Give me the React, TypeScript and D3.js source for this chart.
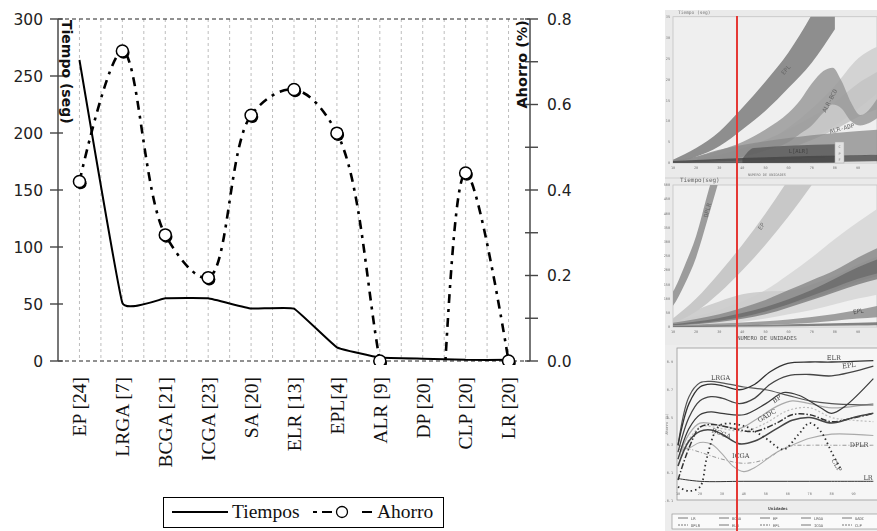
import React from "react";
import * as d3 from "d3";

// ---------- main chart data ----------
const categories = ["EP [24]", "LRGA [7]", "BCGA [21]", "ICGA [23]", "SA [20]", "ELR [13]", "EPL[4]", "ALR [9]", "DP [20]", "CLP [20]", "LR [20]"];
const tiempos = [264, 51, 55, 55, 46, 46, 12, 3, 2, 1, 1];
const ahorro = [0.42, 0.725, 0.295, 0.195, 0.575, 0.635, 0.533, 0, -0.6, 0.44, 0];
const tiempoTicks = [0, 50, 100, 150, 200, 250, 300];
const ahorroTicks = [0, 0.2, 0.4, 0.6, 0.8];
const ahorroMinorTicks = [0.1, 0.3, 0.5, 0.7];
const legendLabels = ["Tiempos", "Ahorro"];

// ---------- side collage data (x = units, lo/hi = value) ----------
type Band = [number, number, number];
const unitTicks = [10, 20, 30, 40, 50, 60, 70, 80, 90];
const p1Ticks = [0, 5, 10, 15, 20, 25, 30, 35];
const p2Ticks = [0, 50, 100, 150, 200, 250, 300, 350, 400, 450, 500];
const p3Ticks = [-0.1, 0.1, 0.3, 0.5, 0.7, 0.9];

const p1Light: Band[] = [[30, 0.5, 1.5], [50, 2, 5], [60, 3.5, 8.5], [70, 6, 13], [80, 9, 18.5], [90, 13, 25], [99, 17, 28]];
const p1ALRADP: Band[] = [[10, 0, 0.3], [30, 0.5, 2], [50, 2, 5.5], [60, 3.5, 8], [70, 5.5, 11], [80, 8, 14.5], [90, 11, 19], [99, 13, 22]];
const p1ALRBCD: Band[] = [[10, 0, 0.4], [20, 0.3, 1.5], [30, 0.8, 3], [40, 1.5, 5], [50, 3, 8], [60, 5, 12], [65, 7, 15], [70, 9, 19], [75, 12, 22], [79, 14, 22.8], [83, 13, 19.5], [87, 10, 14.5], [91, 9, 11.5], [99, 11, 16]];
const p1EPL: Band[] = [[10, 0, 0.8], [20, 1.5, 3.6], [30, 4, 7.5], [40, 8, 13.2], [50, 12.5, 19.5], [60, 18, 26.5], [70, 24, 35.5], [80, 32, 46]];
const p1Low: Band[] = [[10, 0, 0.7], [20, 0.2, 1.5], [26, 0.3, 2.6], [40, 0.6, 4.3], [60, 1, 6], [80, 1.5, 7.2], [99, 2, 8]];
const p1Box: Band[] = [[40, 0, 1], [45, 0, 3.6], [80, 0, 4.5]];
const p1Base: Band[] = [[10, 0, 0.5], [40, 0, 1.2], [99, 0.4, 2]];

const p2Wide: Band[] = [[10, 0, 20], [30, 10, 60], [50, 30, 130], [60, 45, 185], [70, 60, 245], [80, 80, 310], [90, 100, 370], [99, 115, 420]];
const p2Hump: Band[] = [[10, 10, 20], [20, 20, 60], [30, 30, 90], [40, 45, 115], [50, 60, 125], [60, 80, 128], [70, 100, 150], [80, 130, 180], [90, 160, 220], [99, 180, 250]];
const p2EP: Band[] = [[10, 12, 30], [20, 55, 100], [30, 120, 190], [40, 200, 290], [50, 290, 400], [60, 390, 520], [70, 500, 640]];
const p2DPLR: Band[] = [[5, 40, 90], [10, 75, 125], [15, 150, 215], [20, 245, 320], [25, 380, 470], [30, 520, 610]];
const p2DarkA: Band[] = [[10, 5, 15], [20, 12, 28], [30, 22, 45], [40, 35, 68], [50, 55, 95], [60, 80, 130], [70, 110, 165], [80, 140, 200], [90, 170, 245], [99, 190, 280]];
const p2DarkB: Band[] = [[10, 5, 10], [30, 18, 32], [50, 45, 70], [70, 95, 130], [90, 150, 210], [99, 170, 240]];
const p2EPL: Band[] = [[10, 0, 6], [30, 3, 12], [50, 8, 20], [70, 15, 35], [90, 30, 60], [99, 35, 75]];
const p2Base: Band[] = [[10, 0, 3], [90, 5, 15], [99, 6, 17]];

type Pt = [number, number];
const lnELR: Pt[] = [[10, 0.3], [15, 0.6], [20, 0.72], [25, 0.74], [30, 0.73], [38, 0.7], [45, 0.74], [52, 0.83], [60, 0.89], [70, 0.9], [80, 0.9], [99, 0.91]];
const lnEPL: Pt[] = [[10, 0.25], [15, 0.5], [20, 0.62], [25, 0.65], [30, 0.64], [38, 0.6], [45, 0.64], [52, 0.74], [60, 0.8], [70, 0.81], [80, 0.8], [99, 0.87]];
const lnLRGA: Pt[] = [[10, 0.3], [15, 0.65], [20, 0.75], [25, 0.76], [30, 0.75], [40, 0.72], [50, 0.7], [60, 0.66], [70, 0.62], [80, 0.6], [99, 0.59]];
const lnSA: Pt[] = [[10, 0.2], [15, 0.42], [20, 0.52], [25, 0.54], [30, 0.53], [40, 0.52], [50, 0.6], [58, 0.68], [65, 0.66], [75, 0.57], [80, 0.53], [86, 0.58], [99, 0.78]];
const lnBP: Pt[] = [[10, 0.2], [15, 0.38], [20, 0.46], [30, 0.44], [38, 0.42], [45, 0.48], [55, 0.58], [62, 0.62], [70, 0.6], [80, 0.57], [99, 0.6]];
const lnGADC: Pt[] = [[10, 0.2], [20, 0.43], [30, 0.42], [40, 0.4], [50, 0.46], [60, 0.55], [70, 0.57], [80, 0.5], [90, 0.48], [99, 0.47]];
const lnBCGAdd: Pt[] = [[10, 0.05], [15, 0.28], [20, 0.43], [25, 0.45], [30, 0.44], [38, 0.41], [45, 0.4], [55, 0.46], [62, 0.52], [70, 0.52], [80, 0.47], [88, 0.49], [99, 0.53]];
const lnBCGA: Pt[] = [[10, 0.15], [15, 0.33], [20, 0.4], [25, 0.41], [30, 0.38], [38, 0.31], [45, 0.33], [55, 0.42], [62, 0.48], [70, 0.5], [80, 0.46], [90, 0.5], [99, 0.53]];
const lnICGA: Pt[] = [[10, 0.27], [15, 0.28], [20, 0.32], [25, 0.31], [30, 0.24], [35, 0.15], [40, 0.11], [45, 0.14], [55, 0.25], [62, 0.3], [70, 0.35], [80, 0.38], [99, 0.37]];
const lnDPLR: Pt[] = [[10, 0.3], [20, 0.25], [30, 0.2], [40, 0.17], [50, 0.2], [60, 0.29], [70, 0.3], [80, 0.3], [99, 0.3]];
const lnCLP: Pt[] = [[10, 0.0], [15, -0.03], [20, 0.0], [23, 0.2], [27, 0.4], [30, 0.45], [40, 0.44], [50, 0.35], [58, 0.27], [65, 0.38], [70, 0.46], [75, 0.4], [80, 0.25], [84, 0.13]];
const lnLR: Pt[] = [[10, 0.06], [20, 0.04], [40, 0.04], [60, 0.04], [80, 0.04], [99, 0.04]];
const p3Labels: [string, number, number, number][] = [
  ["ELR", 81, 0.915, 0], ["EPL", 88, 0.86, -8], ["LRGA", 29.4, 0.77, 0], ["BP", 55.6, 0.62, -35],
  ["GADC", 51, 0.5, -30], ["BCGA", 29.4, 0.37, 20], ["ICGA", 38.6, 0.21, 0], ["DPLR", 92.5, 0.29, 0],
  ["CLP", 81.4, 0.15, 60], ["LR", 96.6, 0.05, 0],
];
const p3LegendRow1 = ["LR", "BCGA", "EP", "LRGA", "GADC"];
const p3LegendRow2 = ["DPLR", "ELR", "EPL", "ICGA", "CLP"];

export default function App() {
  const W = 877, H = 531;
  const left = 58, right = 530, top = 19, bottom = 361;
  const x = d3.scaleBand<string>().domain(categories).range([left, right]);
  const cx = (c: string) => (x(c) ?? 0) + x.bandwidth() / 2;
  const yL = d3.scaleLinear().domain([0, 300]).range([bottom, top]);
  const yR = d3.scaleLinear().domain([0, 0.8]).range([bottom, top]);
  const tLine = d3.line<number>().x((_, i) => cx(categories[i])).y((d) => yL(d)).curve(d3.curveCardinal.tension(0.75));
  const aLine = d3.line<number>().x((_, i) => cx(categories[i])).y((d) => yR(d)).curve(d3.curveCatmullRom.alpha(0.5));
  const gridXs = d3.range(1, categories.length * 2).map((k) => left + (k * x.bandwidth()) / 2);

  // collage scales
  const sx12 = d3.scaleLinear().domain([10, 90]).range([673, 858]);
  const sy1 = d3.scaleLinear().domain([0, 35]).range([163, 16.7]);
  const sy2 = d3.scaleLinear().domain([0, 500]).range([327, 185]);
  const sx3 = d3.scaleLinear().domain([10, 90]).range([678, 853.6]);
  const sy3 = d3.scaleLinear().domain([0.1, 0.9]).range([473, 362]);
  const area = (sx: any, sy: any) => d3.area<Band>().x((d) => sx(d[0])).y0((d) => sy(d[1])).y1((d) => sy(d[2])).curve(d3.curveMonotoneX);
  const a1 = area(sx12, sy1), a2 = area(sx12, sy2);
  const l3 = d3.line<Pt>().x((d) => sx3(d[0])).y((d) => sy3(d[1])).curve(d3.curveCatmullRom);

  const tickFont = { fontFamily: "DejaVu Sans", fontSize: 15.5, fill: "#222" } as const;
  const serif = { fontFamily: "Liberation Serif", fontSize: 19.5, fill: "#111" } as const;
  const tiny = { fontFamily: "DejaVu Sans Mono", fontSize: 4.5, fill: "#777" } as const;

  return (
    <svg width={W} height={H} style={{ position: "absolute", left: 0, top: 0, background: "#fff" }}>
      <defs>
        <clipPath id="plot"><rect x={left} y={top - 2} width={right - left} height={bottom - top + 6} /></clipPath>
        <clipPath id="p1"><rect x={673} y={16.7} width={204} height={146.3} /></clipPath>
        <clipPath id="p2"><rect x={673} y={185} width={204} height={142} /></clipPath>
        <clipPath id="p3"><rect x={677} y={348} width={200} height={152} /></clipPath>
        <filter id="blur"><feGaussianBlur stdDeviation="0.7" /></filter>
      </defs>

      {/* ------------- main chart ------------- */}
      {gridXs.map((gx, i) => (
        <line key={i} x1={gx} x2={gx} y1={top} y2={bottom} stroke="#bdbdbd" strokeDasharray="3,3" />
      ))}
      <line x1={left} x2={right} y1={top} y2={top} stroke="#222" strokeDasharray="4,3" />
      <line x1={left} x2={right} y1={bottom} y2={bottom} stroke="#222" strokeDasharray="4,3" />
      <line x1={left} x2={left} y1={top} y2={bottom} stroke="#555" strokeWidth={1.6} />
      <line x1={right} x2={right} y1={top} y2={bottom} stroke="#555" strokeWidth={1.6} />
      {tiempoTicks.map((t) => (
        <g key={t}>
          <line x1={left - 8} x2={left + 5} y1={yL(t)} y2={yL(t)} stroke="#444" strokeWidth={1.4} />
          <text x={43} y={yL(t)} dy="0.36em" textAnchor="end" {...tickFont}>{t}</text>
        </g>
      ))}
      {ahorroTicks.map((t) => (
        <g key={t}>
          <line x1={right - 5} x2={right + 8} y1={yR(t)} y2={yR(t)} stroke="#444" strokeWidth={1.4} />
          <text x={547} y={yR(t)} dy="0.36em" textAnchor="start" {...tickFont}>{t.toFixed(1)}</text>
        </g>
      ))}
      {ahorroMinorTicks.map((t) => (
        <line key={t} x1={right - 5} x2={right + 8} y1={yR(t)} y2={yR(t)} stroke="#444" strokeWidth={1.4} />
      ))}
      <text transform={`translate(62,20) rotate(90)`} fontFamily="DejaVu Sans" fontWeight="bold" fontSize={14} fill="#111">Tiempo (seg)</text>
      <text transform={`translate(527,20) rotate(-90)`} textAnchor="end" fontFamily="DejaVu Sans" fontWeight="bold" fontSize={14.5} fill="#111">Ahorro (%)</text>

      <g clipPath="url(#plot)">
        <path d={tLine(tiempos) ?? ""} fill="none" stroke="#000" strokeWidth={2} strokeLinejoin="round" />
        <path d={aLine(ahorro) ?? ""} fill="none" stroke="#000" strokeWidth={2.6} strokeDasharray="9,6,3,6" />
        {ahorro.map((v, i) => (
          <g key={i}>
            <circle cx={cx(categories[i]) + 1.2} cy={yR(v) + 1.8} r={6} fill="#000" />
            <circle cx={cx(categories[i])} cy={yR(v)} r={6} fill="#fff" stroke="#000" strokeWidth={1.5} />
          </g>
        ))}
      </g>
      {categories.map((c) => (
        <text key={c} transform={`translate(${cx(c)},377) rotate(-90)`} textAnchor="end" dy="0.35em" {...serif}>{c}</text>
      ))}

      {/* legend */}
      <rect x={163.5} y={497.5} width={280} height={30} fill="#fff" stroke="#000" />
      <line x1={172} x2={228} y1={512} y2={512} stroke="#000" strokeWidth={2} />
      <text x={232} y={512} dy="0.33em" {...serif}>{legendLabels[0]}</text>
      <line x1={313} x2={372} y1={512} y2={512} stroke="#000" strokeWidth={2} strokeDasharray="4,5,10,30,10,5,4" />
      <circle cx={342} cy={512} r={5.5} fill="#fff" stroke="#000" strokeWidth={1.3} />
      <text x={377} y={512} dy="0.33em" {...serif}>{legendLabels[1]}</text>

      {/* ------------- side collage ------------- */}
      <g filter="url(#blur)">
        <rect x={665} y={10} width={212} height={335} fill="#eaeaea" />
        <rect x={673} y={16.7} width={204} height={146.3} fill="#efefef" stroke="#c4c4c4" strokeWidth={0.8} />
        <g clipPath="url(#p1)">
          <path d={a1(p1Light) ?? ""} fill="#d3d3d3" />
          <path d={a1(p1ALRADP) ?? ""} fill="#c4c4c4" opacity={0.9} />
          <path d={a1(p1ALRBCD) ?? ""} fill="#9a9a9a" opacity={0.85} />
          <path d={a1(p1EPL) ?? ""} fill="#8e8e8e" />
          <path d={a1(p1Low) ?? ""} fill="#8a8a8a" opacity={0.75} />
          <path d={a1(p1Box) ?? ""} fill="#5e5e5e" opacity={0.85} />
          <path d={a1(p1Base) ?? ""} fill="#444" opacity={0.8} />
          <text transform={`translate(${sx12(58)},${sy1(21)}) rotate(-50)`} {...tiny} fontSize={6} fill="#666">EPL</text>
          <text transform={`translate(${sx12(76)},${sy1(12)}) rotate(-62)`} {...tiny} fontSize={6} fill="#666">ALR-BCD</text>
          <text transform={`translate(${sx12(78)},${sy1(7)}) rotate(-15)`} {...tiny} fontSize={6} fill="#666">ALR-ADP</text>
          <text x={sx12(60)} y={sy1(2.4)} {...tiny} fontSize={5.5} fill="#444">L[ALR]</text>
        </g>
        <rect x={835} y={142} width={9} height={21} fill="#e2e2e2" stroke="#aaa" strokeWidth={0.5} />
        <text x={839.5} y={148} textAnchor="middle" {...tiny} fontSize={3.5}>C</text>
        <text x={839.5} y={155} textAnchor="middle" {...tiny} fontSize={3.5}>P</text>
        <text x={839.5} y={161} textAnchor="middle" {...tiny} fontSize={3.5}>F</text>
        <text x={678} y={14} {...tiny}>Tiempo (seg)</text>
        {p1Ticks.map((t) => (
          <text key={t} x={670} y={sy1(t)} dy="0.35em" textAnchor="end" {...tiny} fontSize={3.5}>{t}</text>
        ))}
        {unitTicks.map((t) => (
          <text key={t} x={sx12(t)} y={169} textAnchor="middle" {...tiny} fontSize={3.5}>{t}</text>
        ))}
        <text x={767} y={176} textAnchor="middle" {...tiny} fontSize={3.5}>NUMERO DE UNIDADES</text>
        <line x1={665} x2={877} y1={178} y2={178} stroke="#d0d0d0" />

        <text x={680} y={182} {...tiny} fontSize={6} fill="#666">Tiempo(seg)</text>
        <rect x={673} y={185} width={204} height={142} fill="#f0f0f0" stroke="#c4c4c4" strokeWidth={0.8} />
        <g clipPath="url(#p2)">
          <path d={a2(p2Wide) ?? ""} fill="#dadada" />
          <path d={a2(p2Hump) ?? ""} fill="#cbcbcb" opacity={0.9} />
          <path d={a2(p2EP) ?? ""} fill="#c8c8c8" />
          <path d={a2(p2DPLR) ?? ""} fill="#9c9c9c" />
          <path d={a2(p2DarkA) ?? ""} fill="#7a7a7a" opacity={0.7} />
          <path d={a2(p2DarkB) ?? ""} fill="#5a5a5a" opacity={0.6} />
          <path d={a2(p2EPL) ?? ""} fill="#8a8a8a" opacity={0.8} />
          <path d={a2(p2Base) ?? ""} fill="#666" opacity={0.8} />
          <text transform={`translate(${sx12(25)},${sy2(385)}) rotate(-75)`} {...tiny} fontSize={6} fill="#666">DPLR</text>
          <text transform={`translate(${sx12(48)},${sy2(340)}) rotate(-55)`} {...tiny} fontSize={6} fill="#777">EP</text>
          <text transform={`translate(${sx12(88)},${sy2(45)}) rotate(-10)`} {...tiny} fontSize={6} fill="#555">EPL</text>
        </g>
        {p2Ticks.map((t) => (
          <text key={t} x={670} y={sy2(t)} dy="0.35em" textAnchor="end" {...tiny} fontSize={3.5}>{t}</text>
        ))}
        {unitTicks.map((t) => (
          <text key={t} x={sx12(t)} y={333} textAnchor="middle" {...tiny} fontSize={3.5}>{t}</text>
        ))}
        <text x={767} y={340} textAnchor="middle" {...tiny} fontSize={5.5} fill="#555">NUMERO DE UNIDADES</text>

        <rect x={665} y={345} width={212} height={186} fill="#ededed" />
        <rect x={677} y={348} width={210} height={152} fill="#f6f6f6" stroke="#9a9a9a" strokeWidth={0.8} />
        <g clipPath="url(#p3)" fill="none">
          <path d={l3(lnDPLR) ?? ""} stroke="#999" strokeWidth={1} strokeDasharray="4,2,1,2" />
          <path d={l3(lnICGA) ?? ""} stroke="#aaa" strokeWidth={1.1} />
          <path d={l3(lnGADC) ?? ""} stroke="#bbb" strokeWidth={1.2} strokeDasharray="2,2" />
          <path d={l3(lnBP) ?? ""} stroke="#aaa" strokeWidth={1.3} />
          <path d={l3(lnLRGA) ?? ""} stroke="#555" strokeWidth={1.2} />
          <path d={l3(lnSA) ?? ""} stroke="#3a3a3a" strokeWidth={1.2} />
          <path d={l3(lnEPL) ?? ""} stroke="#444" strokeWidth={1.3} />
          <path d={l3(lnELR) ?? ""} stroke="#333" strokeWidth={1.3} />
          <path d={l3(lnBCGAdd) ?? ""} stroke="#333" strokeWidth={1.5} strokeDasharray="6,2,1.5,2" />
          <path d={l3(lnBCGA) ?? ""} stroke="#444" strokeWidth={1.6} />
          <path d={l3(lnCLP) ?? ""} stroke="#333" strokeWidth={1.8} strokeDasharray="1.5,3" />
          <path d={l3(lnLR) ?? ""} stroke="#333" strokeWidth={1} />
          {p3Labels.map(([s, ux, v, r]) => (
            <text key={s} transform={`translate(${sx3(ux)},${sy3(v)}) rotate(${r})`} textAnchor="middle" fontFamily="DejaVu Serif" fontSize={6.5} fill="#444" stroke="none">{s}</text>
          ))}
        </g>
        {p3Ticks.map((t) => (
          <text key={t} x={673} y={sy3(t)} dy="0.35em" textAnchor="end" {...tiny} fontSize={3.5}>{t}</text>
        ))}
        {unitTicks.map((t) => (
          <text key={t} x={sx3(t)} y={495} textAnchor="middle" {...tiny} fontSize={3.5}>{t}</text>
        ))}
        <text transform="translate(668,424) rotate(-90)" textAnchor="middle" {...tiny} fontSize={3.5}>Ahorro (%)</text>
        <text x={778} y={510} textAnchor="middle" {...tiny} fontSize={4} fill="#444" fontWeight="bold">Unidades</text>
        <rect x={672} y={514} width={210} height={15} fill="#fafafa" stroke="#888" strokeWidth={0.6} />
        {p3LegendRow1.map((s, i) => (
          <g key={s}>
            <line x1={678 + i * 41} x2={688 + i * 41} y1={518} y2={518} stroke="#555" strokeWidth={0.8} />
            <text x={691 + i * 41} y={519.5} {...tiny} fontSize={3.8} fill="#555">{s}</text>
          </g>
        ))}
        {p3LegendRow2.map((s, i) => (
          <g key={s}>
            <line x1={678 + i * 41} x2={688 + i * 41} y1={525} y2={525} stroke="#555" strokeWidth={0.8} strokeDasharray={i % 2 ? "0" : "2,1"} />
            <text x={691 + i * 41} y={526.5} {...tiny} fontSize={3.8} fill="#555">{s}</text>
          </g>
        ))}
      </g>
      <line x1={737} x2={737} y1={16} y2={531} stroke="#e53935" strokeWidth={2} />
    </svg>
  );
}
